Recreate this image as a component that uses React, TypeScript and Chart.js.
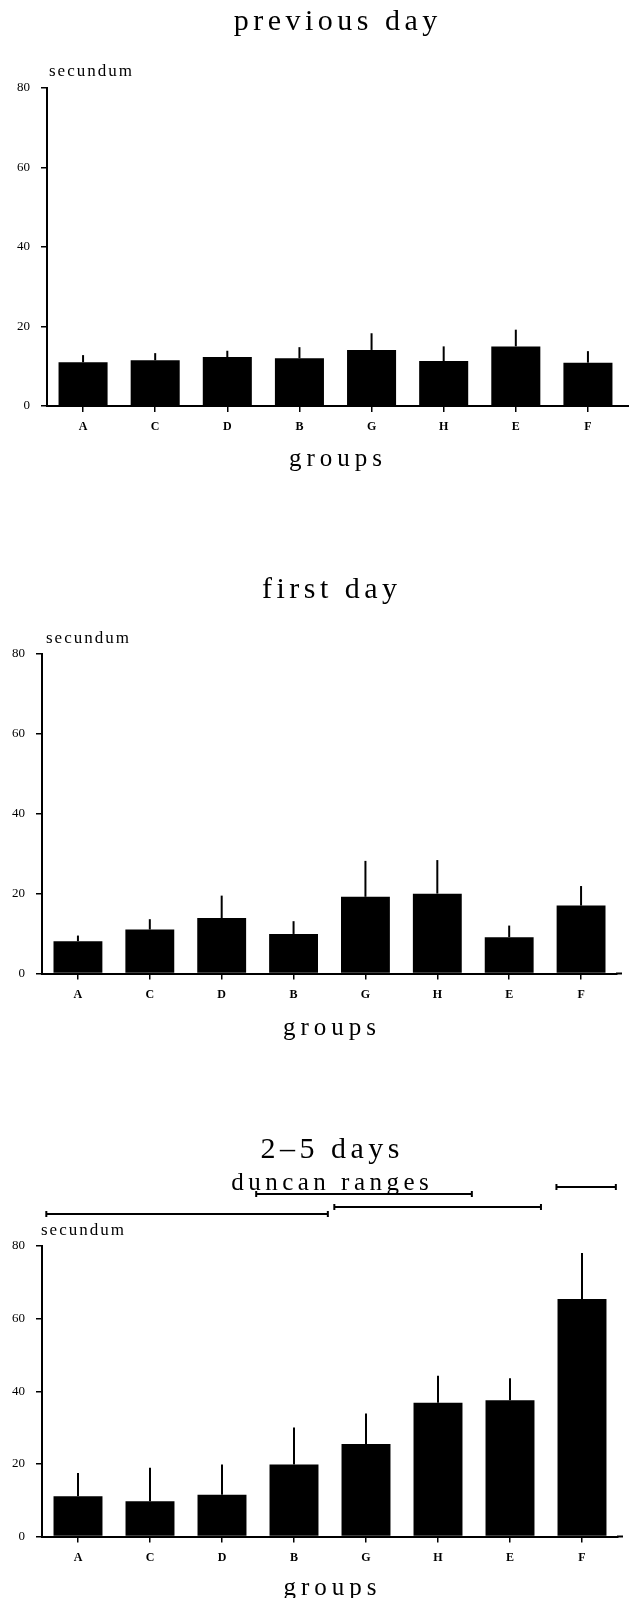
import React, { useEffect, useRef } from "react";
import { Chart, registerables } from "chart.js";

Chart.register(...registerables);

// ---------- data ----------
const groups = ["A", "C", "D", "B", "G", "H", "E", "F"];
const yTickValues = [0, 20, 40, 60, 80];

const previousDayMeans = [11.0, 11.5, 12.3, 12.0, 14.1, 11.3, 15.0, 10.9];
const previousDayErrors = [1.8, 1.8, 1.6, 2.8, 4.2, 3.7, 4.2, 2.9];

const firstDayMeans = [8.1, 11.0, 13.9, 9.9, 19.2, 20.0, 9.1, 17.0];
const firstDayErrors = [1.4, 2.6, 5.6, 3.2, 9.0, 8.4, 2.9, 4.9];

const days25Means = [11.1, 9.7, 11.5, 19.8, 25.5, 36.8, 37.5, 65.4];
const days25Errors = [6.4, 9.2, 8.3, 10.2, 8.4, 7.5, 6.1, 12.7];

const duncanFrom = ["A", "B", "G", "F"];
const duncanTo = ["B", "H", "E", "F"];

const titles = ["previous day", "first day", "2–5 days"];
const yLabel = "secundum";
const xLabel = "groups";
const duncanLabel = "duncan ranges";

// ---------- styling / layout ----------
const SERIF = '"Liberation Serif", "DejaVu Serif", serif';

type Layout = {
  top: number;
  height: number;
  areaTop: number;
  areaBottom: number;
  areaLeft: number;
  areaRight: number;
  titleY: number;
  secX: number;
  secY: number;
  groupsY: number;
  duncanTextY?: number;
  duncanRowsY?: number[];
  duncanStartFrac?: number[];
  duncanEndFrac?: number[];
};

const layouts: Layout[] = [
  { top: 0, height: 480, areaTop: 88, areaBottom: 406, areaLeft: 47, areaRight: 624, titleY: 22.5, secX: 49, secY: 71.5, groupsY: 459 },
  { top: 540, height: 550, areaTop: 114, areaBottom: 433.5, areaLeft: 42, areaRight: 617, titleY: 50, secX: 46, secY: 99, groupsY: 488.5 },
  {
    top: 1090, height: 508, areaTop: 156, areaBottom: 446.5, areaLeft: 42, areaRight: 618, titleY: 60, secX: 41, secY: 140.5, groupsY: 498,
    duncanTextY: 93, duncanRowsY: [124, 104, 117, 97],
    duncanStartFrac: [0.44, 0.525, 0.44, 0.355], duncanEndFrac: [0.47, 0.47, 0.43, 0.47],
  },
];

function spacedText(ctx: CanvasRenderingContext2D, text: string, x: number, y: number, font: string, spacing: number, align: CanvasTextAlign) {
  ctx.font = font;
  (ctx as any).letterSpacing = spacing + "px";
  ctx.textAlign = align;
  ctx.textBaseline = "middle";
  ctx.fillText(text, align === "center" ? x + spacing / 2 : x, y);
  (ctx as any).letterSpacing = "0px";
}

const panelPlugin = {
  id: "panelDecor",
  afterDatasetsDraw(chart: any, _args: any, opts: any) {
    const { ctx, scales } = chart;
    const yS = scales.y;
    const meta = chart.getDatasetMeta(0);
    const values: number[] = chart.data.datasets[0].data;
    const errs: number[] = opts.errors || [];
    ctx.save();
    ctx.strokeStyle = "#000";
    ctx.lineWidth = 2;
    errs.forEach((e: number, i: number) => {
      const bar = meta.data[i];
      if (!bar) return;
      ctx.beginPath();
      ctx.moveTo(bar.x, yS.getPixelForValue(values[i]));
      ctx.lineTo(bar.x, yS.getPixelForValue(values[i] + e));
      ctx.stroke();
    });
    ctx.restore();
  },
  afterDraw(chart: any, _args: any, opts: any) {
    const { ctx, chartArea, scales } = chart;
    const L: Layout = opts.layout;
    const cx = (chartArea.left + chartArea.right) / 2;
    ctx.save();
    ctx.fillStyle = "#000";
    spacedText(ctx, opts.title, cx, L.titleY, `30px ${SERIF}`, 4.5, "center");
    spacedText(ctx, yLabel, L.secX, L.secY, `17px ${SERIF}`, 2, "left");
    spacedText(ctx, xLabel, cx, L.groupsY, `25px ${SERIF}`, 5, "center");

    // small extension of the x axis to the right
    ctx.strokeStyle = "#000";
    ctx.lineWidth = 2;
    ctx.beginPath();
    ctx.moveTo(chartArea.right - 1, chartArea.bottom);
    ctx.lineTo(chartArea.right + 5, chartArea.bottom);
    ctx.stroke();

    if (opts.duncan && L.duncanRowsY) {
      spacedText(ctx, duncanLabel, cx, L.duncanTextY as number, `25px ${SERIF}`, 4.5, "center");
      const xS = scales.x;
      const cat = xS.getPixelForValue(1) - xS.getPixelForValue(0);
      ctx.lineWidth = 2;
      duncanFrom.forEach((f: string, i: number) => {
        const a = xS.getPixelForValue(groups.indexOf(f)) - cat * (L.duncanStartFrac ? L.duncanStartFrac[i] : 0.45);
        const b = xS.getPixelForValue(groups.indexOf(duncanTo[i])) + cat * (L.duncanEndFrac ? L.duncanEndFrac[i] : 0.47);
        const y = L.duncanRowsY![i];
        ctx.beginPath();
        ctx.moveTo(a, y);
        ctx.lineTo(b, y);
        ctx.moveTo(a, y - 3);
        ctx.lineTo(a, y + 3);
        ctx.moveTo(b, y - 3);
        ctx.lineTo(b, y + 3);
        ctx.stroke();
      });
    }
    ctx.restore();
  },
};

function makeConfig(means: number[], errors: number[], title: string, L: Layout, duncan: boolean): any {
  return {
    type: "bar",
    data: {
      labels: groups,
      datasets: [
        {
          data: means,
          backgroundColor: "#000",
          borderWidth: 0,
          barPercentage: 0.68,
          categoryPercentage: 1,
        },
      ],
    },
    options: {
      animation: false,
      responsive: false,
      maintainAspectRatio: false,
      layout: { padding: { top: L.areaTop, right: 634 - L.areaRight, left: 0, bottom: 0 } },
      plugins: {
        legend: { display: false },
        tooltip: { enabled: false },
        title: { display: false },
        panelDecor: { errors, title, layout: L, duncan },
      },
      scales: {
        x: {
          offset: true,
          grid: { display: true, drawOnChartArea: false, drawTicks: true, tickLength: 6, offset: false, color: "#000", lineWidth: 1.5 },
          border: { display: true, color: "#000", width: 2 },
          ticks: { font: { family: SERIF, size: 12, weight: "bold" }, color: "#000", padding: 8, maxRotation: 0 },
          afterFit: (s: any) => {
            s.height = L.height - L.areaBottom;
          },
        },
        y: {
          min: 0,
          max: 80,
          afterBuildTicks: (s: any) => {
            s.ticks = yTickValues.map((v) => ({ value: v }));
          },
          ticks: { font: { family: SERIF, size: 13 }, color: "#000", padding: 11 },
          grid: { display: true, drawOnChartArea: false, drawTicks: true, tickLength: 6, color: "#000", lineWidth: 1.5 },
          border: { display: true, color: "#000", width: 2 },
          afterFit: (s: any) => {
            s.width = L.areaLeft;
          },
        },
      },
    },
    plugins: [panelPlugin],
  };
}

function Panel({ means, errors, title, layout, duncan }: { means: number[]; errors: number[]; title: string; layout: Layout; duncan: boolean }) {
  const ref = useRef<HTMLCanvasElement | null>(null);
  useEffect(() => {
    if (!ref.current) return;
    const chart = new Chart(ref.current, makeConfig(means, errors, title, layout, duncan));
    return () => chart.destroy();
  }, []);
  return (
    <canvas
      ref={ref}
      width={634}
      height={layout.height}
      style={{ position: "absolute", left: 0, top: layout.top, width: 634, height: layout.height }}
    />
  );
}

export default function App() {
  return (
    <div style={{ position: "absolute", left: 0, top: 0, width: 634, height: 1598, background: "#fff", overflow: "hidden" }}>
      <Panel means={previousDayMeans} errors={previousDayErrors} title={titles[0]} layout={layouts[0]} duncan={false} />
      <Panel means={firstDayMeans} errors={firstDayErrors} title={titles[1]} layout={layouts[1]} duncan={false} />
      <Panel means={days25Means} errors={days25Errors} title={titles[2]} layout={layouts[2]} duncan={true} />
    </div>
  );
}
